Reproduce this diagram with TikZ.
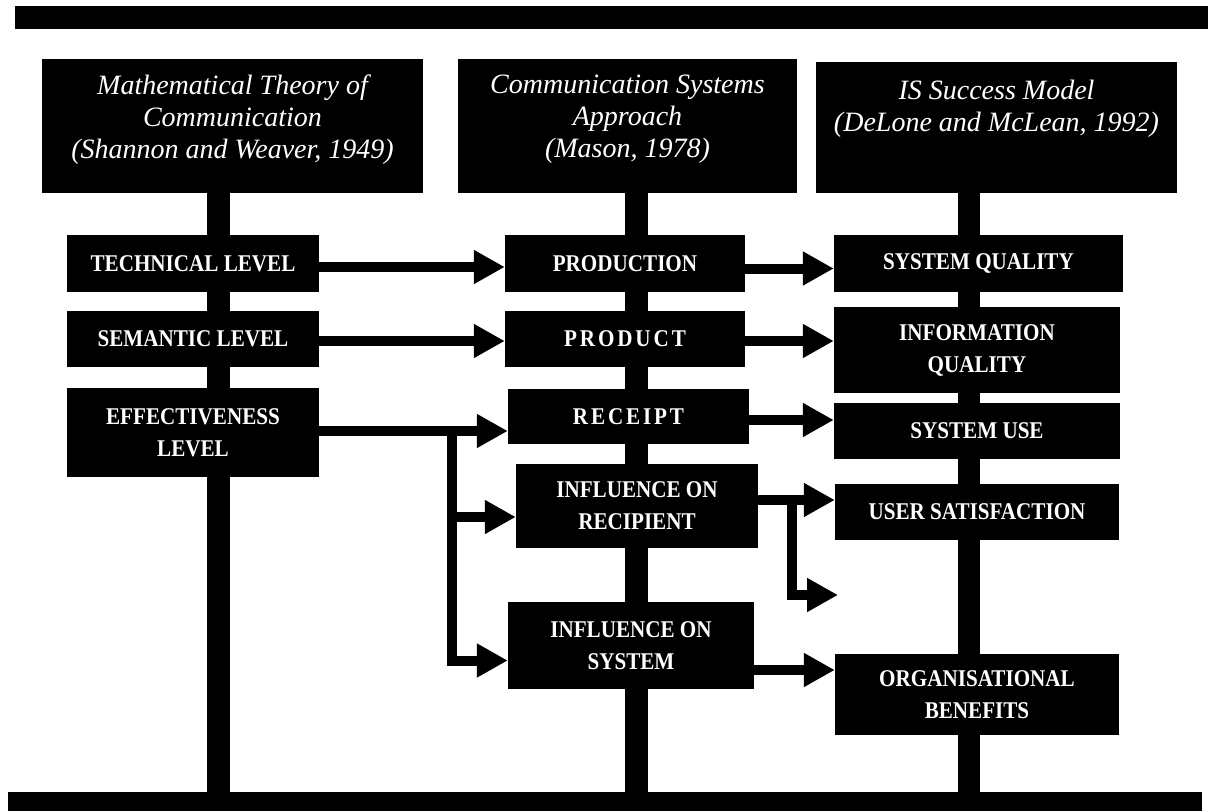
\documentclass[tikz,border=0pt]{standalone}
\usepackage{fontspec}
\setmainfont{Liberation Serif}
\newfontfamily\labelfont[FakeStretch=0.88]{Liberation Serif}
\usetikzlibrary{arrows.meta,backgrounds}

\tikzset{
  blk/.style={fill=black, draw=none, inner sep=0pt, text=white},
  header/.style={blk, font=\fontsize{28}{32}\selectfont\itshape},
  levelbox/.style={blk, align=center, font=\labelfont\bfseries\fontsize{24}{32}\selectfont},
  bar/.style={fill=black, draw=none, inner sep=0pt},
  trunk/.style={line width=23pt},
  flow/.style={line width=10pt, -{Triangle[length=31pt,width=32pt]}},
}
% header text: box height, space above the first line, lines
\newcommand{\hdrtext}[3]{\parbox[c][#1][t]{335pt}{\centering\vspace*{#2}#3}}
\newcommand{\tracked}[1]{{\addfontfeature{LetterSpace=12}#1}}

\begin{document}
\begin{tikzpicture}[x=1pt, y=-1pt]
  \useasboundingbox (0,0) rectangle (1213,811);

  % frame bars
  \node[bar, minimum width=1193pt, minimum height=23pt] (tbar) at (611.5,17.5) {};
  \node[bar, minimum width=1194pt, minimum height=19pt] (bbar) at (605,801.5) {};

  % column headers
  \node[header, minimum width=381pt, minimum height=134pt] (hL) at (232.5,126)
    {\hdrtext{134pt}{15.5pt}{Mathematical Theory of\\Communication\\(Shannon and Weaver, 1949)}};
  \node[header, minimum width=339pt, minimum height=134pt] (hM) at (627.5,126)
    {\hdrtext{134pt}{15.5pt}{Communication Systems\\Approach\\(Mason, 1978)}};
  \node[header, minimum width=361pt, minimum height=131pt] (hR) at (996.5,127.5)
    {\hdrtext{131pt}{18.5pt}{IS Success Model\\(DeLone and McLean, 1992)}};

  % Shannon and Weaver levels
  \node[levelbox, minimum width=252pt, minimum height=57pt] (tech) at (193,263.5) {TECHNICAL LEVEL};
  \node[levelbox, minimum width=252pt, minimum height=56pt] (sem)  at (193,339) {SEMANTIC LEVEL};
  \node[levelbox, minimum width=252pt, minimum height=89pt] (eff)  at (193,432.5) {EFFECTIVENESS\\LEVEL};

  % Mason levels
  \node[levelbox, minimum width=240pt, minimum height=57pt] (prod)    at (625,263.5) {PRODUCTION};
  \node[levelbox, minimum width=240pt, minimum height=56pt] (product) at (625,339) {\tracked{PRODUCT}};
  \node[levelbox, minimum width=241pt, minimum height=55pt] (receipt) at (628.5,416.5) {\tracked{RECEIPT}};
  \node[levelbox, minimum width=242pt, minimum height=84pt] (recip)   at (637,506) {INFLUENCE ON\\RECIPIENT};
  \node[levelbox, minimum width=246pt, minimum height=87pt] (infsys)  at (631,645.5) {INFLUENCE ON\\SYSTEM};

  % DeLone and McLean dimensions
  \node[levelbox, minimum width=289pt, minimum height=57pt] (sq) at (978.5,263.5) {SYSTEM QUALITY};
  \node[levelbox, minimum width=286pt, minimum height=86pt] (iq) at (977,350) {INFORMATION\\QUALITY};
  \node[levelbox, minimum width=286pt, minimum height=56pt] (su) at (977,431) {SYSTEM USE};
  \node[levelbox, minimum width=284pt, minimum height=56pt] (us) at (977,512) {USER SATISFACTION};
  \node[levelbox, minimum width=284pt, minimum height=81pt] (ob) at (977,694.5) {ORGANISATIONAL\\BENEFITS};

  % vertical spines of the three columns, behind the boxes
  \begin{scope}[on background layer]
    \draw[trunk] ([xshift=-14pt]hL.south) -- ([xshift=-14pt]hL.south |- bbar.north);
    \draw[trunk] ([xshift=9pt]hM.south) -- ([xshift=9pt]hM.south |- bbar.north);
    \draw[trunk, line width=22pt] ([xshift=-27.5pt]hR.south) -- ([xshift=-27.5pt]hR.south |- bbar.north);
  \end{scope}

  % levels to Mason
  \draw[flow] ([yshift=-3.5pt]tech.east) -- ([yshift=-3.5pt]tech.east -| prod.west);
  \draw[flow] ([yshift=-2pt]sem.east) -- ([yshift=-2pt]sem.east -| product.west);
  \draw[flow] ([yshift=1.5pt]eff.east) -- ([yshift=1.5pt]eff.east -| receipt.west);
  \coordinate (effsplit) at (452,431);
  \draw[flow] ([yshift=-11pt]recip.west -| effsplit) -- ([yshift=-11pt]recip.west);
  \draw[flow] (effsplit) |- ([yshift=-15pt]infsys.west);

  % Mason to IS success
  \draw[flow] ([yshift=-5pt]prod.east) -- ([yshift=-5pt]prod.east -| sq.west);
  \draw[flow] ([yshift=-2pt]product.east) -- ([yshift=-2pt]product.east -| iq.west);
  \draw[flow] ([yshift=-3.5pt]receipt.east) -- ([yshift=-3.5pt]receipt.east -| su.west);
  \draw[flow] ([yshift=6pt]recip.east) -- ([yshift=6pt]recip.east -| us.west);
  \coordinate (fbsplit) at (791.5,500);
  \coordinate (fbend) at (838,595);
  \draw[flow] (fbsplit) |- (fbend);
  \draw[flow] ([yshift=-24.5pt]infsys.east) -- ([yshift=-24.5pt]infsys.east -| ob.west);
\end{tikzpicture}
\end{document}
